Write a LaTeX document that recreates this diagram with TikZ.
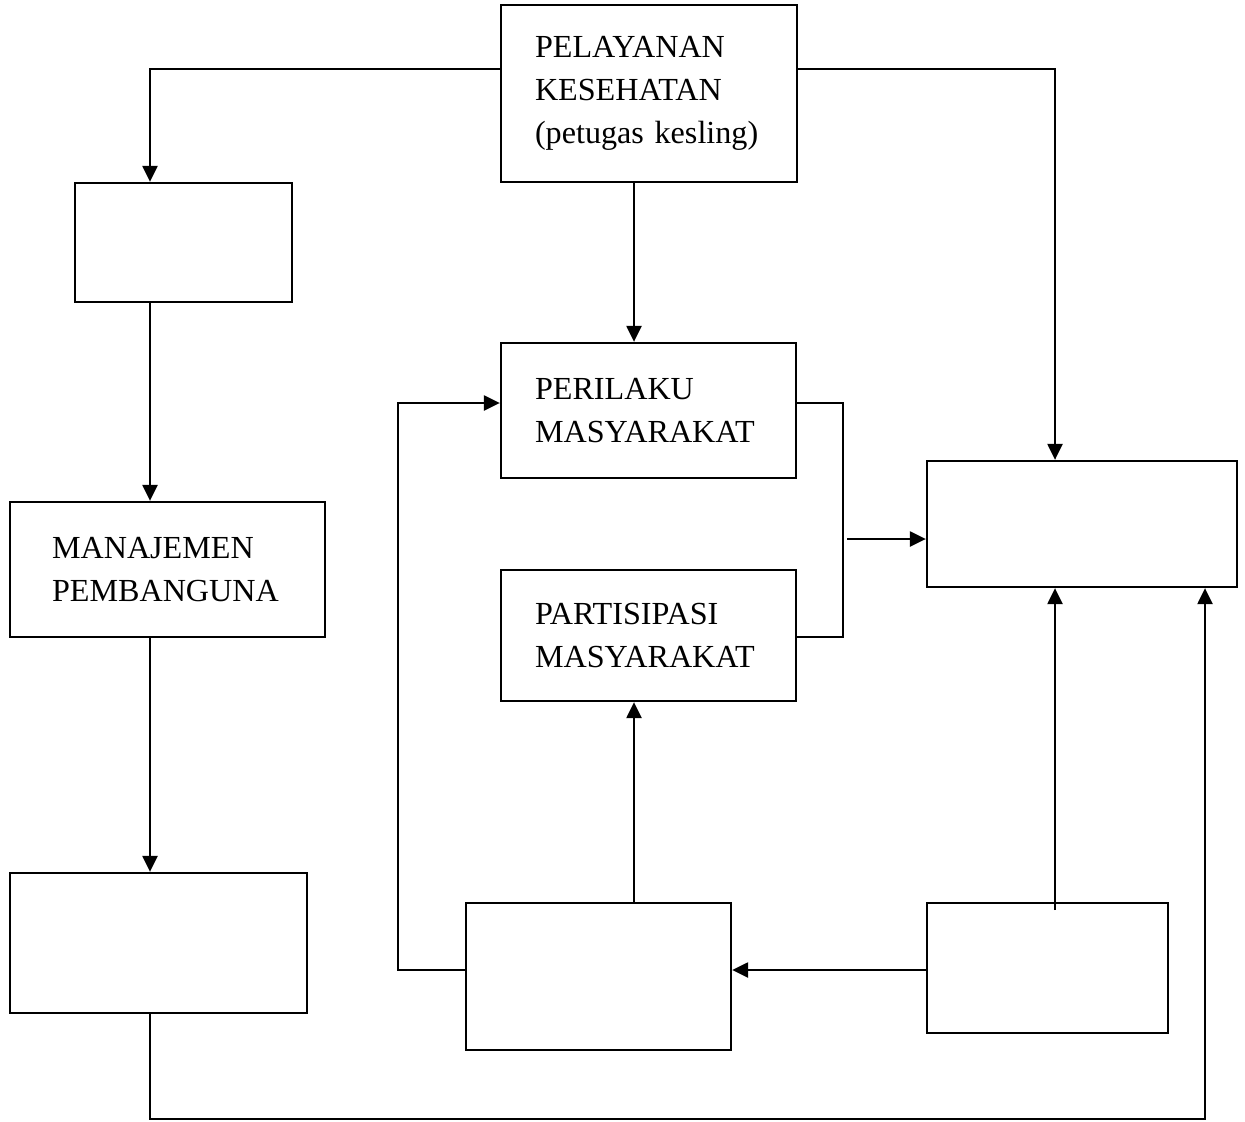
\documentclass[tikz,border=0pt]{standalone}
\usepackage{fontspec}
\setmainfont{Liberation Serif}
\usepackage{tikz}
\usetikzlibrary{arrows.meta}
\usetikzlibrary{calc}

\begin{document}
\begin{tikzpicture}[x=0.02cm, y=-0.02cm]
        % ================= styles =================
        \tikzset{
            % box with text, left aligned
            kotak/.style n args={3}{draw=black, line width=1.3pt, fill=white,
                minimum width=#1*0.02cm, minimum height=#2*0.02cm,
                text width=#1*0.02cm-2*#3*0.02cm, inner xsep=#3*0.02cm, inner ysep=0pt,
                align=left, font=\fontsize{18.3}{24.4}\selectfont},
            % empty box
            kosong/.style 2 args={draw=black, line width=1.3pt, fill=white,
                minimum width=#1*0.02cm, minimum height=#2*0.02cm, inner sep=0pt},
            panah/.style={line width=1.3pt, -{Triangle[length=0.32cm, width=0.3cm]}},
            garis/.style={line width=1.3pt}
        }
        \useasboundingbox (0,0) rectangle (1245,1122);

        % ================= columns and rows of the connectors =================
        \coordinate (kolA) at (150,0);
        \coordinate (kolB) at (634,0);
        \coordinate (kolC) at (1055,0);
        \coordinate (kolD) at (1205,0);
        \coordinate (barisAtas) at (0,69);
        \coordinate (barisPer) at (0,403);
        \coordinate (barisPar) at (0,637);
        \coordinate (barisBawah) at (0,970);
        \coordinate (barisDasar) at (0,1119);
        \coordinate (kananMasuk) at (847,539);
        \coordinate (kananAwal) at (1055,910);

        % ================= boxes =================
        \node[kotak={296}{177}{34}] (pel) at (649,93.5) {PELAYANAN\\KESEHATAN\\(petugas kesling)};
        \node[kosong={217}{119}] (kiri1) at (183.5,242.5) {};
        \node[kotak={315}{135}{42}] (mnj) at (167.5,569.5) {MANAJEMEN\\PEMBANGUNA};
        \node[kosong={297}{140}] (kiri2) at (158.5,943) {};
        \node[kotak={295}{135}{34}] (per) at (648.5,410.5) {PERILAKU\\MASYARAKAT};
        \node[kotak={295}{131}{34}] (par) at (648.5,635.5) {PARTISIPASI\\MASYARAKAT};
        \node[kosong={310}{126}] (kanan) at (1082,524) {};
        \node[kosong={265}{147}] (tengah) at (598.5,976.5) {};
        \node[kosong={241}{130}] (kanan2) at (1047.5,968) {};

        % ================= connectors =================
        % from the top box
        \draw[panah] (pel.west |- barisAtas) -| (kiri1.north -| kolA);
        \draw[panah] (pel.east |- barisAtas) -| (kanan.north -| kolC);
        \draw[panah] (pel.south -| kolB) -- (per.north -| kolB);

        % left column
        \draw[panah] (kiri1.south -| kolA) -- (mnj.north -| kolA);
        \draw[panah] (mnj.south -| kolA) -- (kiri2.north -| kolA);
        \draw[panah] (kiri2.south -| kolA) -- (kolA |- barisDasar) -| (kanan.south -| kolD);

        % bracket of the two middle boxes
        \draw[garis] (per.east |- barisPer) -- (843,403) -- (843,637) -- (par.east |- barisPar);
        \draw[panah] (kananMasuk) -- (kanan.west |- kananMasuk);

        % bottom row
        \draw[panah] (tengah.west |- barisBawah) -- (398,970) |- (per.west |- barisPer);
        \draw[panah] (tengah.north -| kolB) -- (par.south -| kolB);
        \draw[panah] (kanan2.west |- barisBawah) -- (tengah.east |- barisBawah);
        \draw[panah] (kananAwal) -- (kanan.south -| kolC);

    \end{tikzpicture}
\end{document}
